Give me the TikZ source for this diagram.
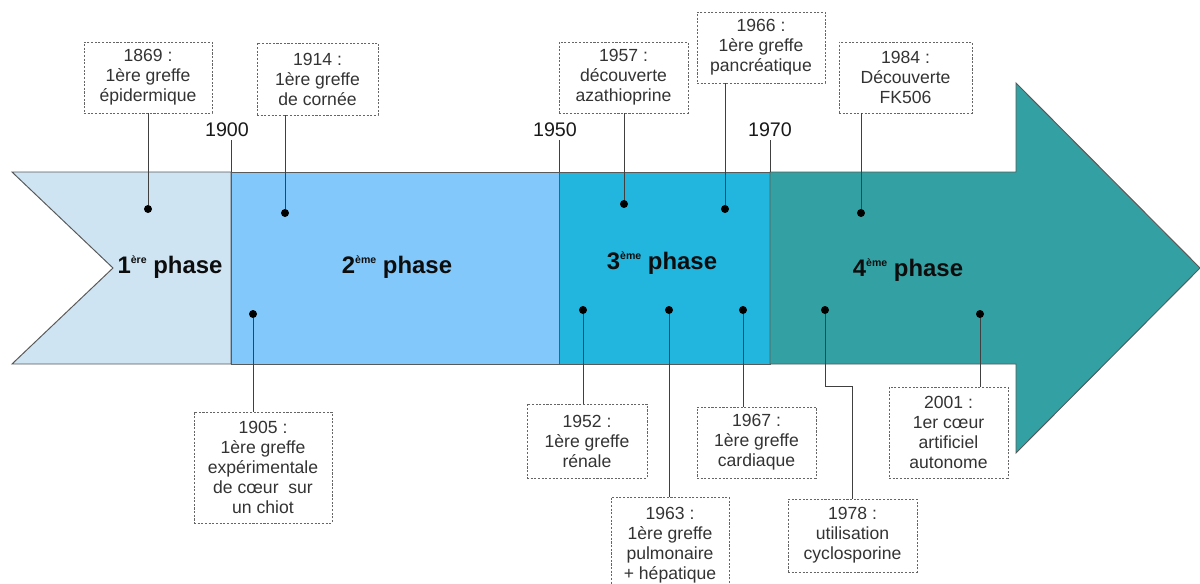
\documentclass[tikz,border=0pt]{standalone}
\usepackage{fontspec}
\setmainfont{Liberation Sans}

\definecolor{phaseA}{HTML}{CFE4F3}
\definecolor{phaseB}{HTML}{82C8FA}
\definecolor{phaseC}{HTML}{22B6DE}
\definecolor{phaseD}{HTML}{33A1A3}

\newcommand{\phsup}[1]{\raisebox{6.8pt}{\fontsize{7.5}{8}\selectfont #1}}

\begin{document}
\begin{tikzpicture}[
  x=0.25mm, y=-0.25mm,
  event/.style = {draw=black!60, dash pattern=on 1.5pt off 1.1pt, line width=0.6pt,
                  align=center, inner sep=0pt, text=black!80,
                  font=\fontsize{12.5}{14.2}\selectfont},
  dot/.style = {circle, fill=black, inner sep=0pt, minimum size=2mm},
  year/.style = {font=\fontsize{14}{16}\selectfont, text=black!90, inner sep=2pt},
  phaselabel/.style = {font=\fontsize{17}{19}\selectfont\bfseries, text=black!95},
  link/.style = {draw=black!75, line width=0.7pt},
  outline/.style = {draw=black!65, line width=0.7pt}
]
  \clip (0,0) rectangle (1200,584);

  % the big arrow, one piece per phase
  \filldraw[outline, fill=phaseA] (12,172) -- (231,172) -- (231,364) -- (12,364) -- (113,268) -- cycle;
  \filldraw[outline, fill=phaseB] (231,172) rectangle (559,364);
  \filldraw[outline, fill=phaseC] (559,172) rectangle (770,364);
  \filldraw[outline, fill=phaseD] (770,172) -- (1016,172) -- (1016,83) -- (1200,268)
    -- (1016,453) -- (1016,364) -- (770,364) -- cycle;

  \node[phaselabel] (p1) at (170,267) {1\phsup{ère} phase};
  \node[phaselabel] (p2) at (397,267) {2\phsup{ème} phase};
  \node[phaselabel] (p3) at (662,263) {3\phsup{ème} phase};
  \node[phaselabel] (p4) at (908,270) {4\phsup{ème} phase};

  % years
  \node[year] (y1900) at (227,130) {1900};
  \node[year] (y1950) at (555,130) {1950};
  \node[year] (y1970) at (770,130) {1970};
  \coordinate (b1900) at (231,172);
  \coordinate (b1950) at (559,172);
  \coordinate (b1970) at (770,172);
  \draw[link] (y1900.south -| b1900) -- (b1900);
  \draw[link] (y1950.south -| b1950) -- (b1950);
  \draw[link] (y1970.south -| b1970) -- (b1970);

  % events above
  \node[event, minimum width=32mm, minimum height=17.75mm] (e1869) at (148,77.5) {1869 :\\1ère greffe\\épidermique};
  \node[event, minimum width=30.25mm, minimum height=18mm] (e1914) at (317.5,79) {1914 :\\1ère greffe\\de cornée};
  \node[event, minimum width=32.25mm, minimum height=17.75mm] (e1957) at (623.5,77.5) {1957 :\\découverte\\azathioprine};
  \node[event, minimum width=32mm, minimum height=17.75mm] (e1966) at (761,47.5) {1966 :\\1ère greffe\\pancréatique};
  \node[event, minimum width=33.25mm, minimum height=17.75mm] (e1984) at (905.5,77.5) {1984 :\\Découverte\\FK506};

  \node[dot] (d1869) at (148,209) {};
  \node[dot] (d1914) at (285,213) {};
  \node[dot] (d1957) at (624,204) {};
  \node[dot] (d1966) at (725,209) {};
  \node[dot] (d1984) at (861,213) {};

  \draw[link] (e1869.south -| d1869) -- (d1869);
  \draw[link] (e1914.south -| d1914) -- (d1914);
  \draw[link] (e1957.south -| d1957) -- (d1957);
  \draw[link] (e1966.south -| d1966) -- (d1966);
  \draw[link] (e1984.south -| d1984) -- (d1984);

  % events below
  \node[event, minimum width=34.5mm, minimum height=27.75mm] (e1905) at (263,467.5) {1905 :\\1ère greffe\\expérimentale\\de cœur\ \ sur\\un chiot};
  \node[event, minimum width=30mm, minimum height=18.5mm] (e1952) at (587,441) {1952 :\\1ère greffe\\rénale};
  \node[event, minimum width=29.5mm, minimum height=24mm] (e1963) at (670,545) {1963 :\\1ère greffe\\pulmonaire\\+ hépatique};
  \node[event, minimum width=29.75mm, minimum height=17.75mm] (e1967) at (756.5,442.5) {1967 :\\1ère greffe\\cardiaque};
  \node[event, minimum width=32.25mm, minimum height=18.25mm] (e1978) at (852.5,535.5) {1978 :\\utilisation\\cyclosporine};
  \node[event, minimum width=29.75mm, minimum height=22.75mm] (e2001) at (948.5,432.5) {2001 :\\1er cœur\\artificiel\\autonome};

  \node[dot] (d1905) at (253,314) {};
  \node[dot] (d1952) at (583,310) {};
  \node[dot] (d1963) at (669,310) {};
  \node[dot] (d1967) at (743,310) {};
  \node[dot] (d1978) at (825,310) {};
  \node[dot] (d2001) at (980,314) {};
  \coordinate (k1978) at (852,386);

  \draw[link] (d1905) -- (d1905 |- e1905.north);
  \draw[link] (d1952) -- (d1952 |- e1952.north);
  \draw[link] (d1963) -- (d1963 |- e1963.north);
  \draw[link] (d1967) -- (d1967 |- e1967.north);
  \draw[link] (d1978) |- (k1978) -- (k1978 |- e1978.north);
  \draw[link] (d2001) -- (d2001 |- e2001.north);
\end{tikzpicture}
\end{document}
